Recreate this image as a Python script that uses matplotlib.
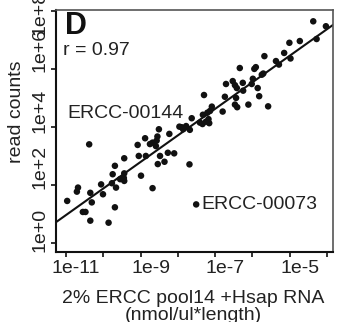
import numpy as np
import matplotlib
matplotlib.use("Agg")
import matplotlib.pyplot as plt
import matplotlib.transforms as mtransforms
from matplotlib.ticker import FixedLocator, FixedFormatter, NullLocator

# ---------------------------------------------------------------------------
# Data (log10 units)
# ---------------------------------------------------------------------------
# log10 concentration (nmol/ul*length)
conc_log10 = [
    -10.97, -10.71, -10.68, -10.55, -10.48, -10.35, -10.35, -10.31, -10.06, -10.01,
    -9.86, -9.75, -9.69, -9.77, -9.66, -9.69, -9.55, -9.44, -9.44, -9.44,
    -9.45, -9.05, -8.99, -8.86, -8.68, -8.54, -8.48, -8.36, -10.38, -9.08,
    -8.88, -8.75, -8.68, -8.59, -8.57, -8.55, -8.51, -8.27, -8.23, -8.10,
    -7.69, -7.96, -7.90, -7.86, -7.78, -7.68, -7.63, -7.41, -7.34, -7.25,
    -7.18, -7.14, -7.09, -7.21, -7.30, -7.16, -7.33, -6.80, -6.74, -6.71,
    -6.53, -6.47, -6.42, -6.44, -6.47, -6.41, -6.25, -6.34, -6.26, -6.11,
    -6.02, -5.99, -5.95, -5.91, -5.86, -5.82, -5.75, -5.71, -5.68, -5.58,
    -5.37, -5.29, -5.15, -4.98, -5.01, -4.73, -4.28, -4.37, -4.03, -7.51,
]
# log10 read counts
counts_log10 = [
    1.45, 1.77, 1.91, 1.07, 1.07, 0.77, 1.73, 1.40, 2.02, 1.68,
    0.70, 2.37, 2.66, 2.06, 1.91, 1.23, 2.20, 2.40, 2.14, 2.92,
    2.24, 3.00, 2.32, 3.00, 1.89, 2.72, 3.00, 2.80, 3.40, 3.38,
    3.61, 3.41, 3.46, 3.34, 3.53, 3.67, 3.92, 3.11, 3.76, 3.09,
    2.71, 4.01, 3.99, 3.92, 4.03, 3.90, 4.30, 4.15, 4.10, 4.18,
    4.27, 4.55, 4.70, 4.49, 5.10, 4.13, 4.42, 4.53, 5.04, 5.48,
    5.58, 5.44, 5.34, 5.00, 4.77, 4.68, 5.25, 6.03, 5.52, 4.77,
    5.48, 5.66, 6.00, 6.06, 5.34, 5.06, 5.80, 5.84, 6.44, 4.71,
    6.27, 6.15, 6.55, 6.36, 6.90, 6.96, 7.03, 7.64, 7.47, 1.33,
]

# regression line in log-log space
FIT_SLOPE = 0.915
FIT_INTERCEPT = 11.03
R_VALUE = 0.97

X_TICKS = [-11, -10, -9, -8, -7, -6, -5, -4]
X_LABELS = ["1e-11", "", "1e-9", "", "1e-7", "", "1e-5", ""]
Y_TICKS = [0, 2, 4, 6, 8]
Y_LABELS = ["1e+0", "1e+2", "1e+4", "1e+6", "1e+8"]

LABELS = [("ERCC-00144", -10.97, 4.45), ("ERCC-00073", -7.36, 1.34)]

FS = 14

# ---------------------------------------------------------------------------
# Plot
# ---------------------------------------------------------------------------
plt.rcParams["font.family"] = ["Liberation Sans", "DejaVu Sans"]

fig = plt.figure(figsize=(3.46, 3.22), dpi=100)
ax = fig.add_axes([56 / 346, 1 - 252 / 322, 277 / 346, 242 / 322])

x = np.array(conc_log10)
y = np.array(counts_log10)
ax.scatter(x, y, s=22, color="#111111", edgecolors="none", zorder=3)

xlim = (-11.27, -3.84)
xx = np.array(xlim)
ax.plot(xx, FIT_INTERCEPT + FIT_SLOPE * xx, color="#111111", lw=1.5, zorder=2)

ax.set_xlim(*xlim)
ax.set_ylim(-0.31, 8.03)

ax.xaxis.set_major_locator(FixedLocator(X_TICKS))
ax.xaxis.set_major_formatter(FixedFormatter(X_LABELS))
ax.yaxis.set_major_locator(FixedLocator(Y_TICKS))
ax.yaxis.set_major_formatter(FixedFormatter(Y_LABELS))
ax.xaxis.set_minor_locator(NullLocator())
ax.yaxis.set_minor_locator(NullLocator())
ax.tick_params(axis="both", direction="out", length=3.5, width=1.2,
               labelsize=FS, color="#111111", labelcolor="#222222")
ax.tick_params(axis="x", pad=2)
ax.tick_params(axis="y", pad=2)

# the labels in the original sit a little off their ticks (pixels)
x_shift = mtransforms.ScaledTranslation(10 / 100, 0, fig.dpi_scale_trans)
for lbl in ax.get_xticklabels():
    lbl.set_transform(lbl.get_transform() + x_shift)
y_offsets = [13, 18, 16, 19, -2]
for lbl, dy in zip(ax.get_yticklabels(), y_offsets):
    lbl.set_rotation(90)
    lbl.set_va("center")
    shift = mtransforms.ScaledTranslation(0, dy / 100, fig.dpi_scale_trans)
    lbl.set_transform(lbl.get_transform() + shift)

for side in ["left", "bottom"]:
    ax.spines[side].set_linewidth(1.5)
    ax.spines[side].set_color("#111111")
for side in ["top", "right"]:
    ax.spines[side].set_linewidth(1.2)
    ax.spines[side].set_color("#555555")

ax.set_xlabel("2% ERCC pool14 +Hsap RNA\n(nmol/ul*length)", fontsize=FS,
              color="#222222", linespacing=1.0, va="center")
ax.xaxis.set_label_coords(0.495, -0.228)
ax.set_ylabel("read counts", fontsize=FS, color="#222222", va="center")
ax.yaxis.set_label_coords(-0.141, 0.58)

ax.text(0.032, 0.995, "D", transform=ax.transAxes, fontsize=22, fontweight="bold",
        ha="left", va="top", color="#111111")
ax.text(0.025, 0.815, f"r = {R_VALUE:.2f}", transform=ax.transAxes, fontsize=FS,
        ha="left", va="baseline", color="#222222")

for name, lx, ly in LABELS:
    ax.text(lx, ly, name, fontsize=FS, ha="left", va="center", color="#222222")

fig.savefig("out.png", dpi=100)
